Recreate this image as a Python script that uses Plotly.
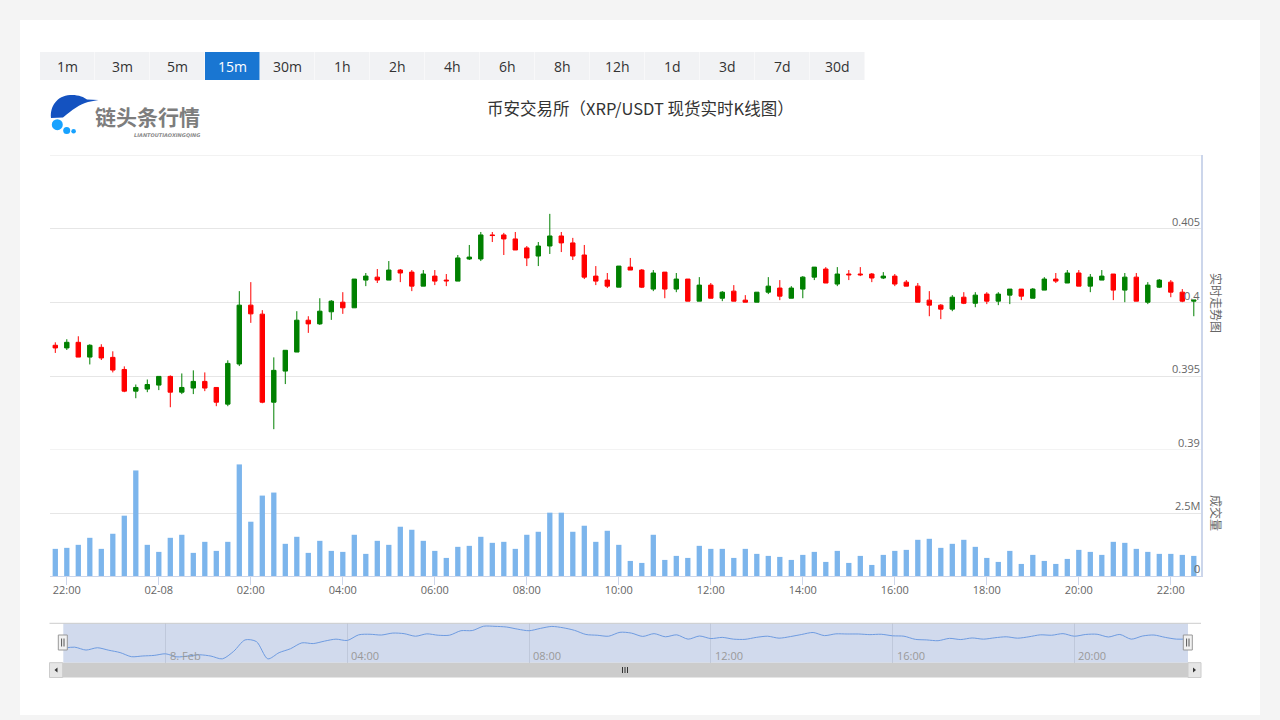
import pandas as pd
import plotly.graph_objects as go

# ---------------- data ----------------
start_time = "2023-02-07 21:45"
opens = [0.39710, 0.39692, 0.39730, 0.39630, 0.39696, 0.39628, 0.39546, 0.39399, 0.39413, 0.39440,
         0.39499, 0.39392, 0.39420, 0.39465, 0.39424, 0.39311, 0.39583, 0.39982, 0.39921, 0.39324,
         0.39535, 0.39664, 0.39880, 0.39855, 0.39937, 0.40002, 0.39964, 0.40152, 0.40172, 0.40152,
         0.40220, 0.40206, 0.40111, 0.40179, 0.40152, 0.40145, 0.40295, 0.40295, 0.40458, 0.40458,
         0.40431, 0.40370, 0.40315, 0.40383, 0.40451, 0.40404, 0.40322, 0.40179, 0.40152, 0.40104,
         0.40240, 0.40220, 0.40091, 0.40206, 0.40091, 0.40159, 0.40009, 0.40118, 0.40029, 0.40077,
         0.40016, 0.40002, 0.40070, 0.40098, 0.40029, 0.40091, 0.40172, 0.40227, 0.40125, 0.40193,
         0.40193, 0.40193, 0.40166, 0.40179, 0.40138, 0.40111, 0.40016, 0.39982, 0.39955, 0.40036,
         0.39995, 0.40057, 0.40009, 0.40050, 0.40091, 0.40029, 0.40084, 0.40159, 0.40132, 0.40200,
         0.40111, 0.40152, 0.40193, 0.40084, 0.40172, 0.40002, 0.40104, 0.40138, 0.40070, 0.40009]
highs = [0.39730, 0.39751, 0.39771, 0.39717, 0.39717, 0.39669, 0.39567, 0.39444, 0.39478, 0.39499,
         0.39506, 0.39519, 0.39540, 0.39526, 0.39424, 0.39608, 0.40077, 0.40138, 0.39948, 0.39628,
         0.39676, 0.39941, 0.39907, 0.40029, 0.40016, 0.40070, 0.40159, 0.40200, 0.40227, 0.40281,
         0.40227, 0.40220, 0.40220, 0.40220, 0.40193, 0.40322, 0.40390, 0.40478, 0.40478, 0.40472,
         0.40478, 0.40383, 0.40410, 0.40601, 0.40478, 0.40438, 0.40390, 0.40247, 0.40200, 0.40247,
         0.40302, 0.40227, 0.40220, 0.40206, 0.40200, 0.40159, 0.40172, 0.40132, 0.40077, 0.40118,
         0.40050, 0.40070, 0.40172, 0.40152, 0.40111, 0.40179, 0.40240, 0.40240, 0.40240, 0.40220,
         0.40240, 0.40200, 0.40206, 0.40193, 0.40152, 0.40132, 0.40077, 0.39989, 0.40050, 0.40070,
         0.40070, 0.40070, 0.40070, 0.40091, 0.40091, 0.40098, 0.40172, 0.40200, 0.40220, 0.40220,
         0.40193, 0.40220, 0.40193, 0.40200, 0.40200, 0.40138, 0.40159, 0.40152, 0.40091, 0.40016]
lows = [0.39658, 0.39678, 0.39630, 0.39580, 0.39610, 0.39526, 0.39392, 0.39351, 0.39392, 0.39406,
        0.39290, 0.39379, 0.39379, 0.39399, 0.39297, 0.39297, 0.39569, 0.39862, 0.39317, 0.39141,
        0.39447, 0.39664, 0.39794, 0.39848, 0.39882, 0.39923, 0.39964, 0.40111, 0.40132, 0.40152,
        0.40138, 0.40077, 0.40111, 0.40118, 0.40111, 0.40145, 0.40288, 0.40281, 0.40410, 0.40322,
        0.40356, 0.40247, 0.40247, 0.40329, 0.40342, 0.40288, 0.40159, 0.40118, 0.40098, 0.40104,
        0.40220, 0.40098, 0.40077, 0.40029, 0.40070, 0.40009, 0.40009, 0.40029, 0.40009, 0.40009,
        0.40002, 0.40002, 0.40057, 0.40016, 0.40029, 0.40029, 0.40152, 0.40132, 0.40111, 0.40152,
        0.40179, 0.40138, 0.40159, 0.40111, 0.40111, 0.40002, 0.39907, 0.39887, 0.39941, 0.39989,
        0.39968, 0.39989, 0.39982, 0.39989, 0.40016, 0.40029, 0.40084, 0.40132, 0.40132, 0.40111,
        0.40070, 0.40152, 0.40016, 0.40002, 0.40009, 0.39989, 0.40098, 0.40036, 0.40002, 0.39907]
closes = [0.39692, 0.39730, 0.39630, 0.39710, 0.39624, 0.39542, 0.39399, 0.39424, 0.39444, 0.39499,
          0.39392, 0.39424, 0.39465, 0.39420, 0.39324, 0.39587, 0.39982, 0.39923, 0.39324, 0.39540,
          0.39676, 0.39880, 0.39855, 0.39941, 0.40009, 0.39964, 0.40159, 0.40179, 0.40152, 0.40220,
          0.40200, 0.40111, 0.40193, 0.40145, 0.40147, 0.40302, 0.40308, 0.40458, 0.40454, 0.40431,
          0.40356, 0.40302, 0.40383, 0.40451, 0.40404, 0.40315, 0.40172, 0.40145, 0.40111, 0.40247,
          0.40220, 0.40104, 0.40200, 0.40091, 0.40159, 0.40009, 0.40118, 0.40029, 0.40070, 0.40009,
          0.40002, 0.40070, 0.40111, 0.40043, 0.40098, 0.40172, 0.40240, 0.40132, 0.40193, 0.40188,
          0.40188, 0.40166, 0.40179, 0.40125, 0.40111, 0.40002, 0.39982, 0.39955, 0.40036, 0.39995,
          0.40050, 0.40009, 0.40057, 0.40091, 0.40043, 0.40091, 0.40159, 0.40145, 0.40200, 0.40111,
          0.40172, 0.40179, 0.40084, 0.40172, 0.40009, 0.40118, 0.40152, 0.40070, 0.40009, 0.40016]
volumes_m = [1.077, 1.117, 1.237, 1.516, 1.077, 1.676, 2.394, 4.189, 1.237, 0.957,
             1.516, 1.636, 0.918, 1.356, 0.997, 1.356, 4.428, 2.154, 3.191, 3.311,
             1.277, 1.556, 0.918, 1.396, 0.997, 0.957, 1.636, 0.878, 1.396, 1.237,
             1.955, 1.835, 1.396, 0.997, 0.718, 1.157, 1.197, 1.556, 1.316, 1.356,
             1.077, 1.636, 1.755, 2.513, 2.513, 1.755, 1.995, 1.356, 1.795, 1.237,
             0.598, 0.519, 1.636, 0.638, 0.798, 0.718, 1.197, 1.077, 1.077, 0.718,
             1.077, 0.878, 0.798, 0.758, 0.638, 0.838, 0.957, 0.559, 0.997, 0.519,
             0.798, 0.439, 0.838, 0.997, 1.037, 1.436, 1.476, 1.117, 1.277, 1.436,
             1.157, 0.718, 0.559, 0.997, 0.479, 0.838, 0.598, 0.479, 0.678, 1.037,
             0.957, 0.838, 1.356, 1.316, 1.077, 0.957, 0.878, 0.878, 0.838, 0.798]

price_ticks = [0.39, 0.395, 0.40, 0.405, 0.41]
price_labels = ["0.39", "0.395", "0.4", "0.405", ""]
vol_ticks = [0, 2.5e6, 5e6]
vol_labels = ["0", "2.5M", ""]
x_tick_labels = ["22:00", "02-08", "02:00", "04:00", "06:00", "08:00", "10:00",
                 "12:00", "14:00", "16:00", "18:00", "20:00", "22:00"]
nav_tick_labels = ["8. Feb", "04:00", "08:00", "12:00", "16:00", "20:00"]
interval_buttons = ["1m", "3m", "5m", "15m", "30m", "1h", "2h", "4h", "6h", "8h",
                    "12h", "1d", "3d", "7d", "30d"]
selected_interval = "15m"
title_text = "币安交易所（XRP/USDT 现货实时K线图）"

times = pd.date_range(start_time, periods=len(closes), freq="15min")
volumes = [v * 1e6 for v in volumes_m]
x_tick_times = pd.date_range("2023-02-07 22:00", periods=len(x_tick_labels), freq="2h")
nav_tick_times = pd.date_range("2023-02-08 00:00", periods=len(nav_tick_labels), freq="4h")

# ---------------- geometry helpers ----------------
W, H = 1280, 720
def X(px): return px / W
def Y(py): return 1 - py / H
def P(x, y): return f"{X(x):.5f},{Y(y):.5f}"

FONT = "Open Sans, Noto Sans CJK SC, sans-serif"
CJK = "Noto Sans CJK SC, sans-serif"

first_px, step_px = 55.3, 11.5
plot_l, plot_r = 50, 1201
step = pd.Timedelta(minutes=15)
x_left = times[0] - step * ((first_px - plot_l) / step_px)
x_right = times[0] + step * ((plot_r - first_px) / step_px)

fig = go.Figure()
fig.add_trace(go.Candlestick(
    x=times, open=opens, high=highs, low=lows, close=closes,
    increasing=dict(line=dict(color="#008000", width=1), fillcolor="#008000"),
    decreasing=dict(line=dict(color="#ff0000", width=1), fillcolor="#ff0000"),
    whiskerwidth=0, xaxis="x", yaxis="y", hoverinfo="skip"))
fig.add_trace(go.Bar(
    x=times, y=volumes, width=415000, marker=dict(color="#7cb5ec", line=dict(width=0)),
    xaxis="x", yaxis="y2", hoverinfo="skip"))
fig.add_trace(go.Scatter(
    x=times, y=closes, mode="lines",
    line=dict(color="#6e9be0", width=1, shape="spline", smoothing=0.8),
    xaxis="x2", yaxis="y3", hoverinfo="skip"))

shapes = []
annotations = []

def note(x, y, text, size, color, family=FONT, xanchor="center", yanchor="middle", **kw):
    d = dict(x=x, y=y, xref=kw.pop("xref", "paper"), yref=kw.pop("yref", "paper"), text=text,
             showarrow=False, xanchor=xanchor, yanchor=yanchor, borderpad=0,
             font=dict(family=family, size=size, color=color))
    d.update(kw)
    annotations.append(d)

# white panel
shapes.append(dict(type="rect", xref="paper", yref="paper", x0=X(20), x1=X(1260),
                   y0=Y(715), y1=Y(20), fillcolor="white", line=dict(width=0), layer="below"))

# interval buttons
for k, lab in enumerate(interval_buttons):
    x0 = 40 + 55 * k
    sel = lab == selected_interval
    shapes.append(dict(type="rect", xref="paper", yref="paper", x0=X(x0), x1=X(x0 + 54.5),
                       y0=Y(80), y1=Y(52), fillcolor="#1976d2" if sel else "#f1f2f4",
                       line=dict(width=0), layer="below"))
    note(X(x0 + 27.5), Y(66), lab, 14, "white" if sel else "#333333")

# logo
logo_path = ("M " + P(51, 118) + " C " + P(50, 106) + " " + P(57, 96) + " " + P(70, 95)
             + " C " + P(78, 94.5) + " " + P(84, 97) + " " + P(87, 99.5)
             + " L " + P(98.5, 100) + " L " + P(88, 102)
             + " C " + P(80, 104) + " " + P(72, 110) + " " + P(63, 117.5) + " Z")
shapes.append(dict(type="path", xref="paper", yref="paper", path=logo_path,
                   fillcolor="#1452c0", line=dict(width=0)))
for cx, cy, r in [(57.3, 124.7, 5.5), (66.7, 130.5, 3.5), (73.6, 131.3, 2.3)]:
    shapes.append(dict(type="circle", xref="paper", yref="paper", x0=X(cx - r), x1=X(cx + r),
                       y0=Y(cy + r), y1=Y(cy - r), fillcolor="#17a2ff", line=dict(width=0)))
note(X(147), Y(116), "<b>链头条行情</b>", 21, "#7d7d7d", family=CJK)
note(X(167), Y(135), "<b><i>LIANTOUTIAOXINGQING</i></b>", 5, "#8a8a8a", family="DejaVu Sans")

# title
note(X(640), Y(108), title_text, 16.5, "#333333", family=CJK)

# price / volume axis labels (above gridlines, right aligned)
for v, lab in zip(price_ticks, price_labels):
    if lab:
        note(X(1200.5), v, lab, 11, "#666666", xanchor="right", yanchor="bottom", yref="y", yshift=-1)
for v, lab in zip(vol_ticks, vol_labels):
    if lab:
        note(X(1200.5), v, lab, 11, "#666666", xanchor="right", yanchor="bottom", yref="y2", yshift=-1)
note(X(1217), Y(303), "实时走势图", 12, "#666666", family=CJK, textangle=90)
note(X(1217), Y(513), "成交量", 12, "#666666", family=CJK, textangle=90)

# pane border lines (top of price pane, price/volume separator)
for yv, yr in [(0.41, "y"), (0.39, "y")]:
    shapes.append(dict(type="line", xref="paper", yref=yr, x0=X(plot_l), x1=X(plot_r),
                       y0=yv, y1=yv, line=dict(color="#e6e6e6", width=1), layer="below"))

# navigator
nav_top, nav_bot = 623.3, 662.7
nav_l, nav_r = 63.3, 1188
shapes.append(dict(type="rect", xref="paper", yref="paper", x0=X(nav_l), x1=X(nav_r),
                   y0=Y(nav_bot), y1=Y(nav_top), fillcolor="rgb(209,218,237)",
                   line=dict(width=0), layer="below"))
shapes.append(dict(type="line", xref="paper", yref="paper", x0=X(49.5), x1=X(1201),
                   y0=Y(nav_top), y1=Y(nav_top), line=dict(color="#cccccc", width=1)))
for hx in [62.8, 1187.8]:
    shapes.append(dict(type="rect", xref="paper", yref="paper", x0=X(hx - 4.5), x1=X(hx + 4.5),
                       y0=Y(650), y1=Y(635), fillcolor="#f2f2f2", line=dict(color="#999999", width=1)))
    for lx in [hx - 1.2, hx + 1.2]:
        shapes.append(dict(type="line", xref="paper", yref="paper", x0=X(lx), x1=X(lx),
                           y0=Y(646.5), y1=Y(638.5), line=dict(color="#555555", width=1)))
for t, lab in zip(nav_tick_times, nav_tick_labels):
    note(t, Y(655), lab, 11, "#999999", xref="x2", xanchor="left", xshift=3)

# scrollbar
shapes.append(dict(type="rect", xref="paper", yref="paper", x0=X(49.5), x1=X(1201),
                   y0=Y(677.5), y1=Y(nav_bot), fillcolor="#cccccc", line=dict(width=0)))
for bx0, bx1 in [(49.5, 62.7), (1188, 1201)]:
    shapes.append(dict(type="rect", xref="paper", yref="paper", x0=X(bx0), x1=X(bx1),
                       y0=Y(677.5), y1=Y(nav_bot), fillcolor="#e6e6e6",
                       line=dict(color="#cccccc", width=1)))
shapes.append(dict(type="path", xref="paper", yref="paper",
                   path="M " + P(57.5, 667.5) + " L " + P(54.5, 670) + " L " + P(57.5, 672.5) + " Z",
                   fillcolor="#333333", line=dict(width=0)))
shapes.append(dict(type="path", xref="paper", yref="paper",
                   path="M " + P(1193, 667.5) + " L " + P(1196, 670) + " L " + P(1193, 672.5) + " Z",
                   fillcolor="#333333", line=dict(width=0)))
for gx in [622.5, 625, 627.5]:
    shapes.append(dict(type="line", xref="paper", yref="paper", x0=X(gx), x1=X(gx),
                       y0=Y(673), y1=Y(667), line=dict(color="#333333", width=1)))

fig.update_layout(
    width=W, height=H, margin=dict(l=0, r=0, t=0, b=0), autosize=False,
    paper_bgcolor="#f4f4f4", plot_bgcolor="rgba(0,0,0,0)",
    showlegend=False, hovermode=False, boxgap=0.45,
    font=dict(family=FONT, size=11, color="#666666"),
    xaxis=dict(domain=[X(plot_l), X(plot_r)], range=[x_left, x_right], anchor="y2",
               rangeslider=dict(visible=False), showgrid=False, zeroline=False,
               showline=True, linecolor="#ccd6eb", linewidth=1,
               tickmode="array", tickvals=list(x_tick_times), ticktext=x_tick_labels,
               ticks="outside", ticklen=8, tickcolor="#ccd6eb", tickwidth=1,
               ticklabelstandoff=-4,
               tickfont=dict(family=FONT, size=11, color="#666666")),
    yaxis=dict(domain=[Y(450), Y(155)], range=[0.39, 0.41], anchor="x", side="right",
               tickmode="array", tickvals=price_ticks, showticklabels=False,
               showgrid=True, gridcolor="#e6e6e6", gridwidth=1, zeroline=False,
               showline=True, linecolor="#ccd6eb", linewidth=2, ticks=""),
    yaxis2=dict(domain=[Y(576), Y(450)], range=[0, 5e6], anchor="x", side="right",
                tickmode="array", tickvals=vol_ticks, showticklabels=False,
                showgrid=True, gridcolor="#e6e6e6", gridwidth=1, zeroline=False,
                showline=True, linecolor="#ccd6eb", linewidth=2, ticks=""),
    xaxis2=dict(domain=[X(nav_l), X(nav_r)], range=[times[0], times[-1]], anchor="y3",
                tickmode="array", tickvals=list(nav_tick_times), showticklabels=False,
                showgrid=True, gridcolor="#bfc8db", gridwidth=1, zeroline=False,
                showline=False, ticks=""),
    yaxis3=dict(domain=[Y(nav_bot), Y(nav_top)], range=[0.3919, 0.4056], anchor="x2",
                showgrid=False, showticklabels=False, zeroline=False, showline=False, ticks=""),
    shapes=shapes, annotations=annotations,
)

fig.write_html(
    "out.html",
    config={"displayModeBar": False},
    post_script="document.body.style.margin='0';document.body.style.background='#f4f4f4';"
                "document.body.style.overflow='hidden';",
)
